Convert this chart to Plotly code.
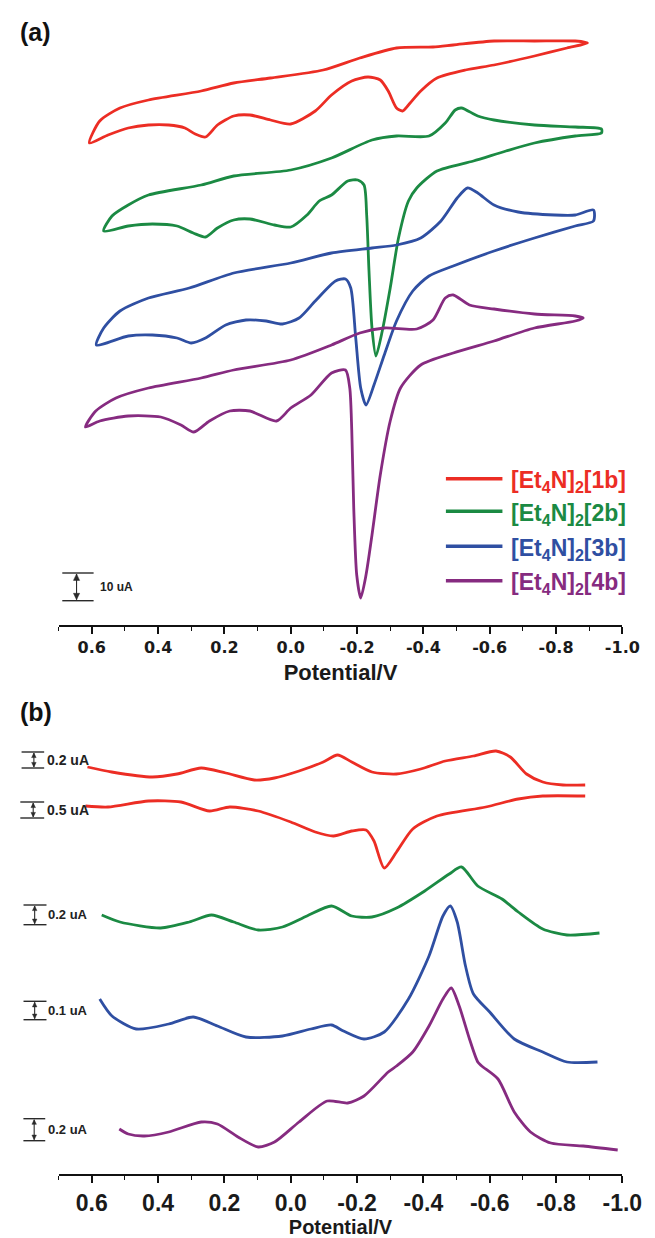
import plotly.graph_objects as go

W, H = 655, 1238

# ---------------- Panel (a): cyclic voltammograms (potential in V, offset current in arbitrary units) -------------
red_a_v = [0.607, 0.576, 0.515, 0.429, 0.270, 0.172, 0.061, -0.098, -0.208, -0.319, -0.429, -0.490, -0.613, -0.735,
           -0.858, -0.895, -0.833, -0.735, -0.613, -0.527, -0.441, -0.392, -0.355, -0.337, -0.319, -0.294, -0.270,
           -0.233, -0.184, -0.123, -0.074, 0.0, 0.061, 0.123, 0.172, 0.221, 0.257, 0.288, 0.319, 0.368, 0.429, 0.490,
           0.551, 0.607]
red_a_i = [482, 504, 517, 525, 534, 542, 547, 555, 567, 577, 578, 580, 584, 584, 584, 582, 577, 569, 560, 555, 547, 534,
           520, 514, 517, 534, 545, 548, 544, 530, 514, 501, 505, 510, 509, 500, 488, 491, 497, 500, 500, 497, 490, 482]

green_a_v = [0.564, 0.539, 0.490, 0.429, 0.270, 0.172, 0.0, -0.123, -0.245, -0.319, -0.417, -0.466, -0.496, -0.515,
             -0.564, -0.613, -0.735, -0.858, -0.937, -0.937, -0.858, -0.735, -0.649, -0.551, -0.441, -0.380, -0.355,
             -0.325, -0.300, -0.276, -0.257, -0.245, -0.236, -0.229, -0.221, -0.202, -0.172, -0.123, -0.086, -0.049,
             0.0, 0.049, 0.123, 0.172, 0.221, 0.257, 0.294, 0.343, 0.417, 0.490, 0.564]
green_a_i = [394, 409, 420, 430, 440, 449, 455, 467, 485, 489, 489, 502, 515, 517, 509, 505, 500, 498, 496, 492, 489,
             482, 474, 464, 454, 437, 424, 387, 337, 294, 269, 297, 354, 410, 440, 445, 444, 430, 424, 410, 398, 400,
             406, 405, 397, 388, 392, 399, 401, 399, 394]

blue_a_v = [0.586, 0.564, 0.515, 0.429, 0.306, 0.172, 0.0, -0.123, -0.245, -0.319, -0.392, -0.453, -0.502, -0.533,
            -0.564, -0.613, -0.686, -0.796, -0.858, -0.913, -0.913, -0.858, -0.735, -0.613, -0.490, -0.417, -0.368,
            -0.319, -0.282, -0.251, -0.227, -0.211, -0.196, -0.181, -0.165, -0.135, -0.074, -0.025, 0.025, 0.074,
            0.135, 0.196, 0.257, 0.300, 0.343, 0.417, 0.490, 0.586]
blue_a_i = [280, 297, 314, 327, 337, 352, 362, 372, 377, 380, 387, 404, 427, 437, 432, 420, 413, 410, 410, 415, 404,
            399, 387, 374, 359, 349, 334, 304, 270, 240, 220, 237, 287, 337, 346, 344, 324, 307, 301, 304, 305, 300,
            287, 282, 287, 290, 289, 280]

purple_a_v = [0.619, 0.588, 0.527, 0.429, 0.270, 0.172, 0.0, -0.123, -0.208, -0.282, -0.380, -0.429, -0.466, -0.490,
              -0.539, -0.613, -0.735, -0.858, -0.882, -0.858, -0.735, -0.613, -0.490, -0.392, -0.331, -0.300, -0.270,
              -0.245, -0.227, -0.211, -0.199, -0.190, -0.184, -0.178, -0.165, -0.123, -0.061, 0.0, 0.043, 0.123,
              0.184, 0.245, 0.292, 0.331, 0.392, 0.490, 0.576, 0.619]
purple_a_i = [198, 214, 227, 237, 247, 255, 265, 280, 292, 297, 296, 305, 327, 330, 320, 316, 311, 309, 307, 304, 297,
              284, 272, 260, 237, 204, 150, 90, 50, 27, 50, 117, 195, 237, 255, 252, 230, 217, 204, 214, 214, 204,
              193, 200, 208, 209, 204, 198]

# ---------------- Panel (b): differential pulse voltammograms -------------
red_b1_v = [0.613, 0.540, 0.417, 0.343, 0.270, 0.196, 0.110, 0.049, -0.025, -0.098, -0.141, -0.184, -0.245, -0.319,
            -0.392, -0.466, -0.551, -0.619, -0.662, -0.711, -0.760, -0.821, -0.888]
red_b1_i = [407, 402, 397, 400, 406, 401, 394, 396, 403, 412, 419, 412, 402, 400, 405, 413, 418, 423, 417, 400, 392,
            389, 389]

red_b2_v = [0.619, 0.551, 0.429, 0.331, 0.245, 0.184, 0.098, 0.0, -0.074, -0.129, -0.184, -0.227, -0.251, -0.282,
            -0.319, -0.368, -0.441, -0.588, -0.686, -0.760, -0.888]
red_b2_i = [368, 367, 373, 372, 363, 367, 363, 352, 342, 338, 343, 344, 333, 306, 322, 345, 358, 367, 375, 378, 378]

green_b_v = [0.570, 0.515, 0.392, 0.306, 0.239, 0.172, 0.098, 0.025, -0.049, -0.123, -0.184, -0.245, -0.319, -0.404,
             -0.478, -0.515, -0.564, -0.637, -0.686, -0.760, -0.833, -0.931]
green_b_i = [259, 252, 246, 252, 259, 252, 244, 247, 258, 268, 258, 257, 266, 283, 300, 307, 288, 275, 262, 245, 239,
             241]

blue_b_v = [0.576, 0.539, 0.466, 0.368, 0.294, 0.221, 0.135, 0.025, -0.061, -0.123, -0.159, -0.221, -0.282, -0.355,
            -0.417, -0.459, -0.481, -0.502, -0.527, -0.551, -0.600, -0.674, -0.760, -0.833, -0.925]
blue_b_i = [175, 158, 145, 150, 157, 148, 137, 138, 145, 149, 143, 135, 142, 175, 218, 258, 268, 252, 208, 180, 162,
            135, 122, 112, 112]

purple_b_v = [0.517, 0.490, 0.441, 0.368, 0.270, 0.221, 0.159, 0.098, 0.049, -0.025, -0.110, -0.172, -0.221, -0.294,
              -0.319, -0.368, -0.417, -0.459, -0.484, -0.508, -0.539, -0.564, -0.576, -0.625, -0.674, -0.723, -0.784,
              -0.882, -0.986]
purple_b_i = [45, 40, 38, 42, 52, 50, 37, 27, 32, 52, 73, 71, 78, 102, 108, 122, 148, 175, 186, 168, 135, 112, 108, 95,
              62, 42, 31, 28, 24]

tick_vals = [0.6, 0.4, 0.2, 0.0, -0.2, -0.4, -0.6, -0.8, -1.0]
tick_text = ["0.6", "0.4", "0.2", "0.0", "-0.2", "-0.4", "-0.6", "-0.8", "-1.0"]

legend_labels = ["[Et<sub>4</sub>N]<sub>2</sub>[1b]", "[Et<sub>4</sub>N]<sub>2</sub>[2b]",
                 "[Et<sub>4</sub>N]<sub>2</sub>[3b]", "[Et<sub>4</sub>N]<sub>2</sub>[4b]"]

RED, GREEN, BLUE, PURPLE = "#ec2d24", "#1b8a43", "#2f4fa2", "#862b80"
colors = [RED, GREEN, BLUE, PURPLE]

fig = go.Figure()

def add(v, i, color, xa, ya):
    fig.add_trace(go.Scatter(x=v, y=i, mode="lines", xaxis=xa, yaxis=ya, showlegend=False,
                             line=dict(color=color, width=2.8, shape="spline", smoothing=0.7)))

add(red_a_v, red_a_i, RED, "x", "y")
add(green_a_v, green_a_i, GREEN, "x", "y")
add(blue_a_v, blue_a_i, BLUE, "x", "y")
add(purple_a_v, purple_a_i, PURPLE, "x", "y")
add(red_b1_v, red_b1_i, RED, "x2", "y2")
add(red_b2_v, red_b2_i, RED, "x2", "y2")
add(green_b_v, green_b_i, GREEN, "x2", "y2")
add(blue_b_v, blue_b_i, BLUE, "x2", "y2")
add(purple_b_v, purple_b_i, PURPLE, "x2", "y2")

def px(x):
    return x / W

def py(y):
    return 1 - y / H

FONT = "Liberation Sans, Arial, sans-serif"
TICKFONT_A = dict(family="DejaVu Sans, sans-serif", size=16, color="#1a1a1a", weight="bold")
TICKFONT_B = dict(family="Liberation Sans Narrow, Arial Narrow, Liberation Sans, sans-serif", size=23,
                  color="#1a1a1a", weight="bold")

def xaxis_style(tf, title_size, standoff):
    return dict(range=[0.7, -1.0], domain=[px(52.2), px(633.7)], showline=True, linecolor="#111", linewidth=2,
                ticks="outside", ticklen=7, tickwidth=1.6, tickcolor="#111",
                tickvals=tick_vals, ticktext=tick_text,
                minor=dict(dtick=0.1, tick0=0, ticks="outside", ticklen=4, tickwidth=1.3, tickcolor="#111"),
                showgrid=False, zeroline=False, tickfont=tf,
                title=dict(text="Potential/V", standoff=standoff,
                           font=dict(family=FONT, size=title_size, color="#1a1a1a", weight="bold")))

fig.update_layout(
    width=W, height=H, margin=dict(l=0, r=0, t=0, b=0),
    paper_bgcolor="white", plot_bgcolor="white",
    xaxis=dict(anchor="y", **xaxis_style(TICKFONT_A, 22, 8)),
    yaxis=dict(domain=[py(617), 1], range=[0, 617], visible=False),
    xaxis2=dict(anchor="y2", **xaxis_style(TICKFONT_B, 20, 3)),
    yaxis2=dict(domain=[py(1166), py(680)], range=[0, 486], visible=False),
)

shapes = []
annots = []

# panel labels
for lab, yy in (("(a)", 24), ("(b)", 704)):
    annots.append(dict(text="<b>" + lab + "</b>", x=px(10), y=py(yy), xref="paper", yref="paper",
                       xanchor="left", yanchor="middle", showarrow=False,
                       font=dict(family=FONT, size=25, color="#111")))

# legend (panel a)
legend_rows = [470.7, 503.3, 538.3, 572.7]
for lab, col, ry in zip(legend_labels, colors, legend_rows):
    shapes.append(dict(type="line", xref="paper", yref="paper", x0=px(451.7), x1=px(510), y0=py(ry), y1=py(ry),
                       line=dict(color=col, width=3.5)))
    annots.append(dict(text="<b>" + lab + "</b>", x=px(517), y=py(ry + 3), xref="paper", yref="paper",
                       xanchor="left", yanchor="middle", showarrow=False,
                       font=dict(family=FONT, size=23, color=col)))

# scale bars: (x0, x1, arrow x, top y, bottom y, label, label x, font size, head size)
scale_bars = [
    (56.0, 88.3, 70.7, 565.0, 592.7, "10 uA", 93.3, 12, 3.2),
    (14.0, 37.3, 26.7, 744.0, 760.0, "0.2 uA", 38.3, 14, 2.3),
    (12.7, 37.3, 26.0, 794.0, 810.0, "0.5 uA", 38.3, 14, 2.3),
    (16.0, 39.7, 27.5, 897.0, 916.7, "0.2 uA", 39.5, 13, 2.3),
    (16.0, 39.7, 27.5, 993.3, 1011.7, "0.1 uA", 39.5, 13, 2.3),
    (15.9, 38.4, 27.0, 1110.7, 1132.7, "0.2 uA", 39.5, 13, 2.3),
]
BAR = "#2a2a2a"
for x0, x1, xa, yt, yb, lab, lx, fs, hs in scale_bars:
    for yy in (yt, yb):
        shapes.append(dict(type="line", xref="paper", yref="paper", x0=px(x0), x1=px(x1), y0=py(yy), y1=py(yy),
                           line=dict(color=BAR, width=1.4)))
    shapes.append(dict(type="line", xref="paper", yref="paper", x0=px(xa), x1=px(xa), y0=py(yt + 1),
                       y1=py(yb - 1), line=dict(color=BAR, width=1.1)))
    for tip, base in ((yt + 1, yt + 1 + 2 * hs), (yb - 1, yb - 1 - 2 * hs)):
        path = "M {:.5f},{:.5f} L {:.5f},{:.5f} L {:.5f},{:.5f} Z".format(
            px(xa), py(tip), px(xa - hs), py(base), px(xa + hs), py(base))
        shapes.append(dict(type="path", xref="paper", yref="paper", path=path, fillcolor=BAR,
                           line=dict(color=BAR, width=0.5)))
    annots.append(dict(text="<b>" + lab + "</b>", x=px(lx), y=py((yt + yb) / 2), xref="paper", yref="paper",
                       xanchor="left", yanchor="middle", showarrow=False,
                       font=dict(family=FONT, size=fs, color="#222")))

fig.update_layout(shapes=shapes, annotations=annots)

fig.write_html("out.html")
